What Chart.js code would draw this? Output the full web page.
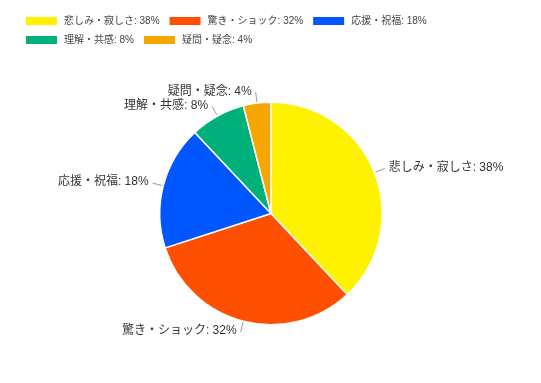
<!DOCTYPE html>
<html>
<head>
<meta charset="utf-8">
<script src="https://cdn.jsdelivr.net/npm/chart.js@4"></script>
<style>
html,body{margin:0;padding:0;background:#fff;}
canvas{display:block;}
</style>
</head>
<body>
<canvas id="c" width="541" height="383"></canvas>
<script>
const categories = ["悲しみ・寂しさ", "驚き・ショック", "応援・祝福", "理解・共感", "疑問・疑念"];
const values = [38, 32, 18, 8, 4];
const colors = ["#FFF200", "#FF4F00", "#0057FF", "#00B07A", "#F5A700"];

const FONT = '"Liberation Sans", Arial, "Noto Sans CJK JP", sans-serif';
const labelText = i => categories[i] + ": " + values[i] + "%";

const outsideLabels = {
  id: "outsideLabels",
  afterDatasetsDraw(chart) {
    const ctx = chart.ctx;
    const meta = chart.getDatasetMeta(0);
    ctx.save();
    ctx.font = "12px " + FONT;
    ctx.textBaseline = "middle";
    meta.data.forEach((arc, i) => {
      const p = arc.getProps(["x", "y", "startAngle", "endAngle", "outerRadius"], true);
      const mid = (p.startAngle + p.endAngle) / 2;
      const cx = Math.cos(mid), cy = Math.sin(mid);
      const x1 = p.x + cx * (p.outerRadius + 1), y1 = p.y + cy * (p.outerRadius + 1);
      const x2 = p.x + cx * (p.outerRadius + 11), y2 = p.y + cy * (p.outerRadius + 11);
      ctx.strokeStyle = "#9a9a9a";
      ctx.lineWidth = 1;
      ctx.beginPath();
      ctx.moveTo(x1, y1);
      ctx.lineTo(x2, y2);
      ctx.stroke();
      ctx.fillStyle = "#333";
      const right = cx >= 0;
      ctx.textAlign = right ? "left" : "right";
      ctx.fillText(labelText(i), x2 + (right ? 4 : -4), y2 - 1);
    });
    ctx.restore();
  }
};

const topLegend = {
  id: "topLegend",
  afterDraw(chart) {
    const ctx = chart.ctx;
    ctx.save();
    ctx.font = "10px " + FONT;
    ctx.textBaseline = "middle";
    ctx.textAlign = "left";
    const rows = [[0, 1, 2], [3, 4]];
    const rowY = [21, 40];
    rows.forEach((row, r) => {
      let x = 26;
      row.forEach(i => {
        ctx.fillStyle = colors[i];
        ctx.fillRect(x, rowY[r] - 4, 31, 8);
        ctx.fillStyle = "#444";
        const t = labelText(i);
        ctx.fillText(t, x + 38, rowY[r] + 0.5);
        x += 38 + ctx.measureText(t).width + 10;
      });
    });
    ctx.restore();
  }
};

new Chart(document.getElementById("c"), {
  type: "pie",
  data: {
    labels: categories,
    datasets: [{
      data: values,
      backgroundColor: colors,
      borderColor: "#ffffff",
      borderWidth: 1.5
    }]
  },
  options: {
    responsive: false,
    animation: false,
    layout: { padding: { top: 101.5, bottom: 57.5, left: 159, right: 158 } },
    plugins: {
      legend: { display: false },
      tooltip: { enabled: false }
    }
  },
  plugins: [outsideLabels, topLegend]
});
</script>
</body>
</html>
